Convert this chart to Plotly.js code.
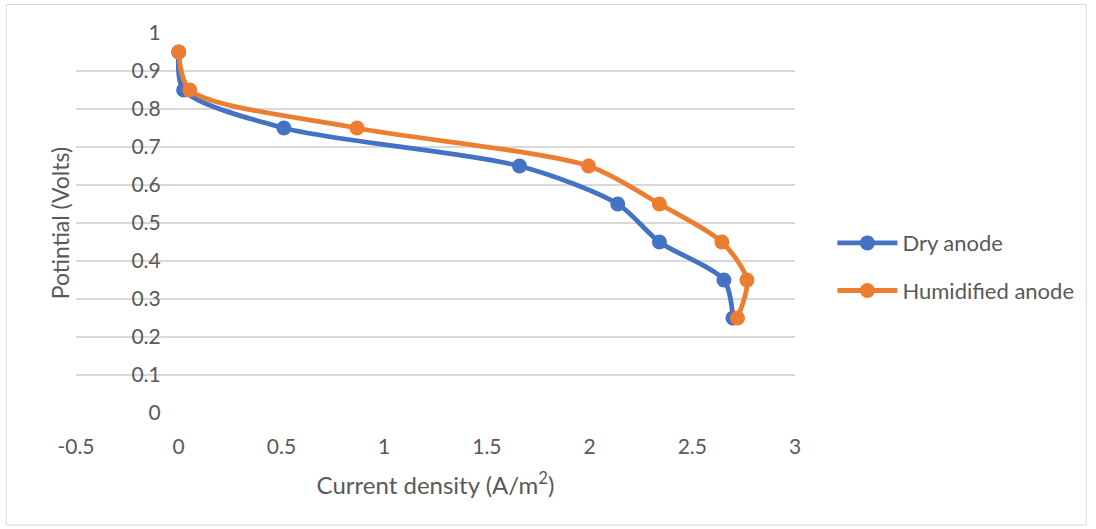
<!DOCTYPE html>
<html><head><meta charset="utf-8">
<script src="https://cdn.plot.ly/plotly-3.0.1.min.js"></script>
<style>html,body{margin:0;padding:0;background:#fff}#c{width:1096px;height:529px}</style>
</head><body><div id="c"></div>
<script>
const potential = [0.95, 0.85, 0.75, 0.65, 0.55, 0.45, 0.35, 0.25];
const dryCurrent = [0.0, 0.024, 0.512, 1.659, 2.137, 2.34, 2.654, 2.698];
const humidCurrent = [0.0, 0.054, 0.868, 1.995, 2.34, 2.644, 2.766, 2.72];
const yTicks = [0, 0.1, 0.2, 0.3, 0.4, 0.5, 0.6, 0.7, 0.8, 0.9, 1];
const xTicks = [-0.5, 0, 0.5, 1, 1.5, 2, 2.5, 3];
const seriesNames = ['Dry anode', 'Humidified anode'];
const colors = ['#4472C4', '#ED7D31'];
const font = 'Lato, "Open Sans", sans-serif';

const traces = [dryCurrent, humidCurrent].map((xs, i) => ({
  x: xs, y: potential, name: seriesNames[i], legendgroup: 'g' + i, type: 'scatter', mode: 'lines+markers',
  line: {color: colors[i], width: 4.8, shape: 'spline', smoothing: 0.8},
  marker: {color: colors[i], size: 15}
}));

const layout = {
  width: 1096, height: 529,
  margin: {l: 76, r: 301, t: 33, b: 116},
  paper_bgcolor: '#fff', plot_bgcolor: '#fff',
  font: {family: font, color: '#595959', size: 21},
  showlegend: true,
  legend: {x: 1.052, y: 0.384, yanchor: 'middle', xanchor: 'left', font: {size: 22, color: '#595959'},
    itemwidth: 60, tracegroupgap: 16, bgcolor: 'rgba(0,0,0,0)'},
  xaxis: {range: [-0.5, 3], tickvals: xTicks, ticktext: xTicks.map(String), showgrid: false,
    zeroline: false, showline: false, ticks: '', ticklen: 0, ticklabelstandoff: 19,
    tickfont: {size: 21, color: '#595959'}, automargin: false,
    title: {text: 'Current density (A/m<sup>2</sup>)', font: {size: 24, color: '#595959'}, standoff: 20}},
  yaxis: {range: [0, 1], tickvals: yTicks, ticktext: yTicks.map(String), showgrid: true,
    gridcolor: '#d9d9d9', gridwidth: 1.3, zeroline: false, showline: false, ticks: '',
    ticklabelstandoff: 18, automargin: false,
    anchor: 'free', position: 0.5 / 3.5, tickfont: {size: 21, color: '#595959'}},
  annotations: [{text: 'Potintial (Volts)', xref: 'paper', yref: 'paper', x: -0.022, y: 0.5,
    textangle: -90, showarrow: false, xanchor: 'center', yanchor: 'middle',
    font: {size: 23, color: '#595959'}}],
  shapes: [{type: 'rect', xref: 'paper', yref: 'paper', x0: -0.097, x1: 1.405, y0: -0.295, y1: 1.075,
    line: {color: '#d9d9d9', width: 1}, fillcolor: 'rgba(0,0,0,0)', layer: 'below'}]
};
Plotly.newPlot('c', traces, layout, {displayModeBar: false, staticPlot: true});
</script></body></html>
